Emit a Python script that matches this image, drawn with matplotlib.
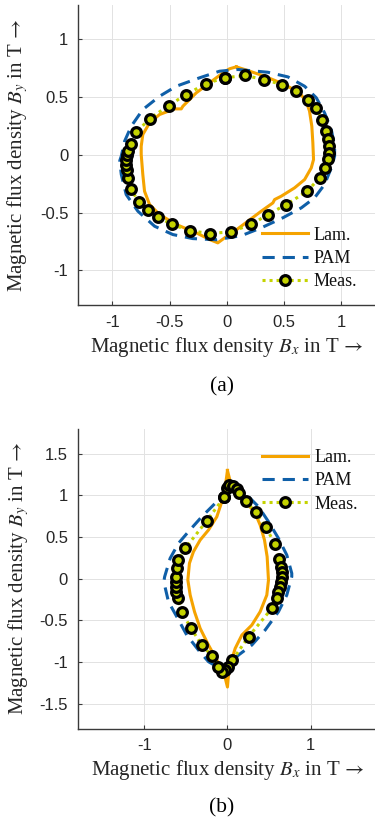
import matplotlib
matplotlib.use('Agg')
import matplotlib.pyplot as plt

# ---------------- data (a) ----------------
lam_a_x = [0.082, 0.155, 0.329, 0.504, 0.635, 0.693, 0.722, 0.742, 0.751, 0.757, 0.737, 0.679, 0.591,
           0.475, 0.417, 0.402, 0.300, 0.183, 0.067, -0.020, -0.079, -0.151, -0.267, -0.442, -0.588,
           -0.675, -0.719, -0.734, -0.748, -0.748, -0.734, -0.675, -0.588, -0.457, -0.398, -0.384,
           -0.267, -0.151, -0.035, 0.023, 0.082]
lam_a_y = [0.762, 0.739, 0.681, 0.609, 0.537, 0.464, 0.378, 0.248, 0.104, -0.041, -0.113, -0.214, -0.286,
           -0.358, -0.387, -0.416, -0.488, -0.575, -0.661, -0.719, -0.762, -0.733, -0.675, -0.603, -0.517,
           -0.430, -0.315, -0.170, 0.003, 0.074, 0.176, 0.277, 0.349, 0.398, 0.398, 0.421,
           0.537, 0.623, 0.710, 0.745, 0.762]

pam_a_x = [0.096, 0.358, 0.533, 0.679, 0.781, 0.853, 0.912, 0.941, 0.941, 0.912, 0.853, 0.766, 0.650,
           0.489, 0.300, 0.126, -0.093, -0.297, -0.472, -0.631, -0.777, -0.879, -0.922, -0.935, -0.922,
           -0.893, -0.835, -0.734, -0.588, -0.442, -0.238, -0.064, 0.096]
pam_a_y = [0.739, 0.715, 0.675, 0.594, 0.494, 0.364, 0.219, 0.075, -0.012, -0.113, -0.257, -0.372, -0.459,
           -0.545, -0.632, -0.700, -0.735, -0.725, -0.690, -0.618, -0.488, -0.344, -0.170, -0.050, -0.012,
           0.118, 0.248, 0.392, 0.507, 0.594, 0.667, 0.724, 0.739]

meas_a_x = [-0.020, 0.161, 0.323, 0.480, 0.600, 0.708, 0.781, 0.830, 0.868, 0.882, 0.891, 0.891, 0.882,
            0.853, 0.810, 0.702, 0.519, 0.358, 0.213, 0.032, -0.151, -0.326, -0.480, -0.603, -0.690,
            -0.769, -0.835, -0.865, -0.875, -0.882, -0.880, -0.870, -0.859, -0.841, -0.791, -0.675,
            -0.509, -0.355, -0.186, -0.020]
meas_a_y = [0.667, 0.687, 0.652, 0.609, 0.551, 0.479, 0.407, 0.306, 0.205, 0.133, 0.075, 0.017, -0.035,
            -0.113, -0.199, -0.315, -0.430, -0.517, -0.603, -0.667, -0.681, -0.656, -0.603, -0.537, -0.480,
            -0.410, -0.300, -0.199, -0.130, -0.090, -0.045, 0.000, 0.031, 0.098, 0.196, 0.312,
            0.427, 0.522, 0.615, 0.667]

# ---------------- data (b) ----------------
lam_b_x = [0.000, 0.030, 0.093, 0.213, 0.325, 0.393, 0.445, 0.477, 0.493, 0.473, 0.393, 0.293, 0.173,
           0.093, 0.032, 0.010, 0.000, -0.030, -0.048, -0.128, -0.228, -0.328, -0.396, -0.448, -0.476,
           -0.457, -0.409, -0.328, -0.228, -0.128, -0.048, -0.020, 0.000]
lam_b_y = [1.300, 1.180, 1.065, 0.925, 0.805, 0.645, 0.465, 0.264, -0.016, -0.196, -0.396, -0.556, -0.676,
           -0.836, -1.036, -1.180, -1.300, -1.180, -1.116, -0.976, -0.796, -0.596, -0.396, -0.196, -0.016,
           0.185, 0.324, 0.465, 0.585, 0.744, 0.984, 1.150, 1.300]

pam_b_x = [0.050, 0.233, 0.373, 0.493, 0.613, 0.713, 0.773, 0.773, 0.713, 0.613, 0.453, 0.293, 0.133,
           -0.050, -0.228, -0.349, -0.489, -0.609, -0.709, -0.765, -0.755, -0.689, -0.589, -0.469,
           -0.308, -0.128, 0.050]
pam_b_y = [1.100, 1.005, 0.865, 0.685, 0.485, 0.285, 0.065, 0.024, -0.196, -0.396, -0.616, -0.796, -0.916,
           -1.100, -0.996, -0.856, -0.676, -0.456, -0.276, -0.036, 0.024, 0.245, 0.425, 0.565,
           0.745, 0.925, 1.100]

meas_b_x = [-0.036, -0.008, 0.020, 0.072, 0.112, 0.133, 0.221, 0.341, 0.461, 0.573, 0.625, 0.645, 0.653,
            0.653, 0.645, 0.633, 0.613, 0.593, 0.533, 0.253, 0.060, 0.010, -0.030, -0.070, -0.108,
            -0.188, -0.308, -0.437, -0.548, -0.596, -0.620, -0.620, -0.620, -0.620, -0.609, -0.589,
            -0.508, -0.248, -0.036]
meas_b_y = [0.984, 1.084, 1.120, 1.112, 1.072, 1.025, 0.933, 0.796, 0.616, 0.416, 0.233, 0.144, 0.084,
            0.024, -0.036, -0.096, -0.156, -0.228, -0.356, -0.696, -0.976, -1.060, -1.100, -1.115, -1.056,
            -0.924, -0.796, -0.596, -0.404, -0.228, -0.156, -0.096, -0.036, 0.024, 0.125, 0.225,
            0.365, 0.696, 0.984]

ticks_a = [-1, -0.5, 0, 0.5, 1]
ticklabels_a = ['-1', '-0.5', '0', '0.5', '1']
xticks_b = [-1, 0, 1]
xticklabels_b = ['-1', '0', '1']
yticks_b = [-1.5, -1, -0.5, 0, 0.5, 1, 1.5]
yticklabels_b = ['-1.5', '-1', '-0.5', '0', '0.5', '1', '1.5']
series_labels = ['Lam.', 'PAM', 'Meas.']

# ---------------- style ----------------
plt.rcParams['mathtext.fontset'] = 'stix'
plt.rcParams['axes.unicode_minus'] = False

C_LAM = '#F5A300'
C_PAM = '#0F5FA8'
C_MEAS = '#C4D300'
AX_C = '#3a3a3a'
SERIF = ['Liberation Serif', 'DejaVu Serif']

fig = plt.figure(figsize=(3.75, 8.23), dpi=100)
ax1 = fig.add_axes([0.208, 0.6294, 0.7939, 0.3649])
ax2 = fig.add_axes([0.2072, 0.1146, 0.7987, 0.3644])


def draw(ax, lx, ly, px, py, mx, my):
    ax.plot(lx, ly, color=C_LAM, lw=2.2, solid_joinstyle='round', label=series_labels[0])
    ax.plot(px, py, color=C_PAM, lw=2.2, linestyle=(0, (4, 2.6)), label=series_labels[1])
    ax.plot(mx, my, color=C_MEAS, lw=2.2, linestyle=(0, (1, 1.3)), marker='o', ms=7,
            mfc=C_MEAS, mec='black', mew=2.3, label=series_labels[2])


def style(ax, xlim, ylim, xt, xtl, yt, ytl, xl_y, yl_x):
    ax.set_xlim(xlim)
    ax.set_ylim(ylim)
    ax.set_xticks(xt)
    ax.set_xticklabels(xtl)
    ax.set_yticks(yt)
    ax.set_yticklabels(ytl)
    ax.grid(True, color='#e2e2e2', lw=0.7)
    ax.set_axisbelow(True)
    for s in ['top', 'right']:
        ax.spines[s].set_visible(False)
    for s in ['left', 'bottom']:
        ax.spines[s].set_color(AX_C)
        ax.spines[s].set_linewidth(1.0)
    ax.tick_params(direction='in', length=3, width=0.8, colors=AX_C, labelcolor='#262626',
                   labelsize=12, pad=7)
    for lab in ax.get_xticklabels() + ax.get_yticklabels():
        lab.set_fontfamily(['Liberation Sans', 'DejaVu Sans'])
    ax.set_xlabel(r'Magnetic flux density $B_x$ in T$\,\rightarrow$', fontsize=15, family=SERIF,
                  color='#262626', va='center')
    ax.set_ylabel(r'Magnetic flux density $B_y$ in T$\,\rightarrow$', fontsize=15, family=SERIF,
                  color='#262626', va='center')
    ax.xaxis.set_label_coords(0.5, xl_y)
    ax.yaxis.set_label_coords(yl_x, 0.5)


draw(ax1, lam_a_x, lam_a_y, pam_a_x, pam_a_y, meas_a_x, meas_a_y)
style(ax1, (-1.3, 1.3), (-1.3, 1.3), ticks_a, ticklabels_a, ticks_a, ticklabels_a,
      -42 / 300, -60 / 297.7)
draw(ax2, lam_b_x, lam_b_y, pam_b_x, pam_b_y, meas_b_x, meas_b_y)
style(ax2, (-1.8, 1.8), (-1.8, 1.8), xticks_b, xticklabels_b, yticks_b, yticklabels_b,
      -41.3 / 300.4, -59.4 / 299.5)

leg_kw = dict(frameon=False, prop={'family': SERIF, 'size': 13}, handlelength=2.55,
              handletextpad=0.33, labelspacing=0.35, borderpad=0, borderaxespad=0,
              numpoints=1, loc='upper left')
l1 = ax1.legend(bbox_to_anchor=(0.618, 0.2613), **leg_kw)
l2 = ax2.legend(bbox_to_anchor=(0.6154, 0.9324), **leg_kw)
for lg in (l1, l2):
    for t in lg.get_texts():
        t.set_color('#111111')

fig.text(222 / 375, 1 - 387 / 823, '(a)', ha='center', va='center', fontsize=15.5, family=SERIF)
fig.text(222 / 375, 1 - 808 / 823, '(b)', ha='center', va='center', fontsize=15.5, family=SERIF)

fig.savefig('out.png', dpi=100)
